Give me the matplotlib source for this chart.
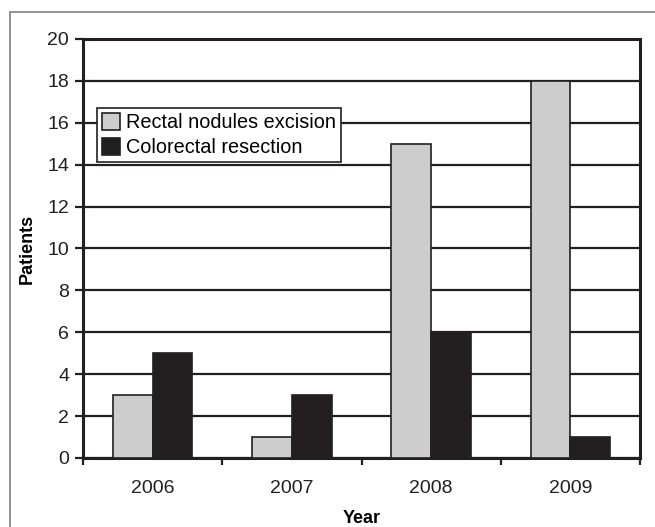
import numpy as np
import matplotlib.pyplot as plt
from matplotlib.patches import Rectangle

plt.rcParams['font.family'] = ['Liberation Sans', 'DejaVu Sans']

years = ['2006', '2007', '2008', '2009']
nodules = [3, 1, 15, 18]
resection = [5, 3, 6, 1]

fig = plt.figure(figsize=(6.55, 5.27), dpi=100)
# outer frame: only left and top edges fall inside the picture
fig.patches.append(Rectangle((10/655, -0.05), 1.0, 1 - 12/527 + 0.05,
                             transform=fig.transFigure, fill=False,
                             edgecolor='#8a8a8a', linewidth=1.3))
ax = fig.add_axes([83/655, 1 - 458/527, (640-83)/655, (458-39)/527])

x = np.arange(len(years))
w = 0.285
ax.bar(x - w/2, nodules, w, color='#cdcdcd', edgecolor='#231f20', linewidth=1.2,
       label='Rectal nodules excision', zorder=3)
ax.bar(x + w/2, resection, w, color='#231f20', edgecolor='#231f20', linewidth=1.2,
       label='Colorectal resection', zorder=3)

ax.set_xlim(-0.5, 3.5)
ax.set_ylim(0, 20)
ax.set_yticks(range(0, 21, 2))
ax.yaxis.grid(True, color='#231f20', linewidth=1.6, zorder=0)
ax.set_axisbelow(True)

ax.set_xticks(x)
ax.set_xticklabels(years)
ax.set_xticks(np.arange(-0.5, 4, 1), minor=True)
ax.tick_params(axis='x', which='major', length=0, pad=16, labelsize=14, colors='#231f20')
ax.tick_params(axis='x', which='minor', length=5, width=1.6, color='#231f20')
ax.tick_params(axis='y', length=6, width=1.6, labelsize=14, pad=4, color='#231f20',
               labelcolor='#231f20')

for s in ax.spines.values():
    s.set_linewidth(2.2)
    s.set_color('#231f20')

ax.set_xlabel('Year', fontweight='bold', fontsize=13, labelpad=9)
ax.set_ylabel('Patients', fontweight='bold', fontsize=13, labelpad=8)

leg = ax.legend(loc='upper left', bbox_to_anchor=(0.025, 0.835), borderaxespad=0,
                fontsize=14.3, frameon=True, fancybox=False, edgecolor='#231f20',
                handlelength=0.9, handleheight=0.9, handletextpad=0.3,
                labelspacing=0.3, borderpad=0.25)
leg.get_frame().set_linewidth(1.2)
leg.get_frame().set_alpha(1)

fig.savefig('out.png', dpi=100)
